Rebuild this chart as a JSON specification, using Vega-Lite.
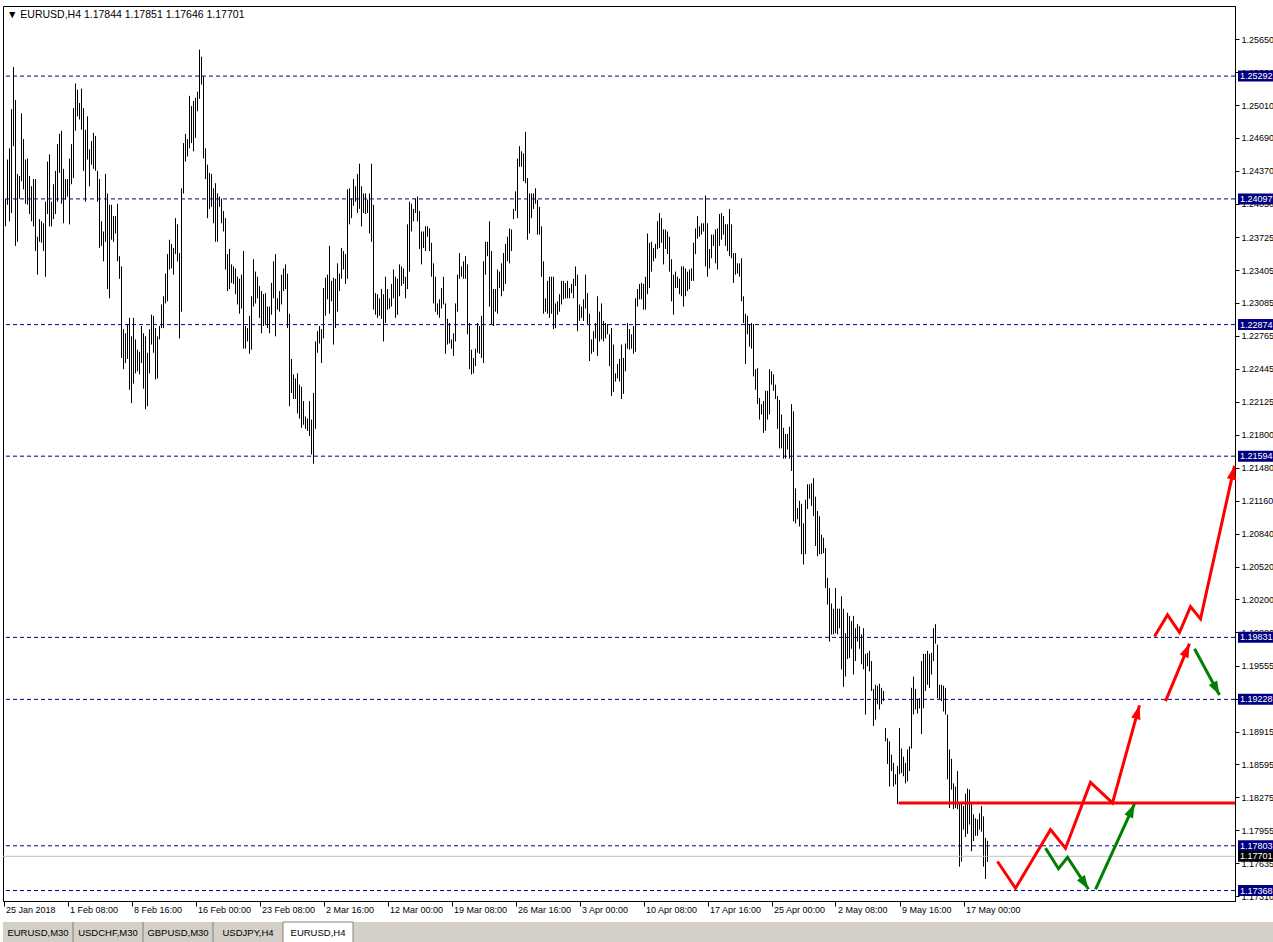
{
"$schema": "https://vega.github.io/schema/vega-lite/v6.json",
"background": "white",
"padding": {"left": 2, "top": 5, "right": 0, "bottom": 0},
"spacing": 6,
"config": {"font": "Liberation Sans", "axis": {"labelFont": "Liberation Sans", "labelFontSize": 9, "labelColor": "black", "domainColor": "black", "tickColor": "black", "grid": false, "labelOverlap": false, "labelFlush": false, "labelBound": false}, "axisY": {"labelOverlap": false}, "axisQuantitative": {"labelOverlap": false}},
"vconcat": [
{
"width": 1232, "height": 895,
"view": {"stroke": "black", "strokeWidth": 1},
"title": {"text": "▼ EURUSD,H4  1.17844 1.17851 1.17646 1.17701", "anchor": "start", "frame": "group", "offset": -14, "dx": 4, "fontSize": 10.5, "fontWeight": "normal", "font": "Liberation Sans", "color": "black"},
"resolve": {"axis": {"x": "independent", "y": "independent"}},
"layer": [
{
"data": {"values": [
{"t":0,"h":1.2422,"l":1.2380},{"t":1,"h":1.2410,"l":1.2383},{"t":2,"h":1.2448,"l":1.2404},{"t":3,"h":1.2459,"l":1.2388},{"t":4,"h":1.2497,"l":1.2396},{"t":5,"h":1.2538,"l":1.2461},{"t":6,"h":1.2506,"l":1.2364},{"t":7,"h":1.2434,"l":1.2368},{"t":8,"h":1.2432,"l":1.2410},{"t":9,"h":1.2493,"l":1.2427},
{"t":10,"h":1.2468,"l":1.2419},{"t":11,"h":1.2448,"l":1.2405},{"t":12,"h":1.2449,"l":1.2404},{"t":13,"h":1.2432,"l":1.2395},{"t":14,"h":1.2422,"l":1.2388},{"t":15,"h":1.2429,"l":1.2383},{"t":16,"h":1.2429,"l":1.2359},{"t":17,"h":1.2373,"l":1.2336},{"t":18,"h":1.2390,"l":1.2368},{"t":19,"h":1.2388,"l":1.2367},
{"t":20,"h":1.2386,"l":1.2359},{"t":21,"h":1.2407,"l":1.2334},{"t":22,"h":1.2446,"l":1.2395},{"t":23,"h":1.2453,"l":1.2383},{"t":24,"h":1.2407,"l":1.2383},{"t":25,"h":1.2424,"l":1.2390},{"t":26,"h":1.2437,"l":1.2395},{"t":27,"h":1.2463,"l":1.2407},{"t":28,"h":1.2473,"l":1.2435},{"t":29,"h":1.2476,"l":1.2405},
{"t":30,"h":1.2439,"l":1.2386},{"t":31,"h":1.2429,"l":1.2409},{"t":32,"h":1.2429,"l":1.2412},{"t":33,"h":1.2449,"l":1.2385},{"t":34,"h":1.2463,"l":1.2424},{"t":35,"h":1.2498,"l":1.2430},{"t":36,"h":1.2522,"l":1.2476},{"t":37,"h":1.2516,"l":1.2490},{"t":38,"h":1.2503,"l":1.2487},{"t":39,"h":1.2517,"l":1.2477},
{"t":40,"h":1.2498,"l":1.2437},{"t":41,"h":1.2477,"l":1.2407},{"t":42,"h":1.2490,"l":1.2448},{"t":43,"h":1.2458,"l":1.2422},{"t":44,"h":1.2466,"l":1.2443},{"t":45,"h":1.2474,"l":1.2439},{"t":46,"h":1.2471,"l":1.2437},{"t":47,"h":1.2437,"l":1.2407},{"t":48,"h":1.2429,"l":1.2362},{"t":49,"h":1.2388,"l":1.2364},
{"t":50,"h":1.2378,"l":1.2349},{"t":51,"h":1.2434,"l":1.2368},{"t":52,"h":1.2415,"l":1.2322},{"t":53,"h":1.2404,"l":1.2313},{"t":54,"h":1.2404,"l":1.2370},{"t":55,"h":1.2393,"l":1.2368},{"t":56,"h":1.2393,"l":1.2376},{"t":57,"h":1.2405,"l":1.2349},{"t":58,"h":1.2354,"l":1.2332},{"t":59,"h":1.2344,"l":1.2255},
{"t":60,"h":1.2283,"l":1.2244},{"t":61,"h":1.2279,"l":1.2250},{"t":62,"h":1.2288,"l":1.2254},{"t":63,"h":1.2294,"l":1.2224},{"t":64,"h":1.2276,"l":1.2211},{"t":65,"h":1.2294,"l":1.2230},{"t":66,"h":1.2273,"l":1.2240},{"t":67,"h":1.2263,"l":1.2242},{"t":68,"h":1.2261,"l":1.2239},{"t":69,"h":1.2286,"l":1.2250},
{"t":70,"h":1.2279,"l":1.2225},{"t":71,"h":1.2276,"l":1.2205},{"t":72,"h":1.2260,"l":1.2208},{"t":73,"h":1.2283,"l":1.2240},{"t":74,"h":1.2297,"l":1.2268},{"t":75,"h":1.2296,"l":1.2260},{"t":76,"h":1.2284,"l":1.2234},{"t":77,"h":1.2276,"l":1.2235},{"t":78,"h":1.2286,"l":1.2273},{"t":79,"h":1.2307,"l":1.2284},
{"t":80,"h":1.2315,"l":1.2284},{"t":81,"h":1.2337,"l":1.2308},{"t":82,"h":1.2356,"l":1.2310},{"t":83,"h":1.2370,"l":1.2341},{"t":84,"h":1.2366,"l":1.2342},{"t":85,"h":1.2362,"l":1.2336},{"t":86,"h":1.2391,"l":1.2356},{"t":87,"h":1.2385,"l":1.2349},{"t":88,"h":1.2357,"l":1.2274},{"t":89,"h":1.2420,"l":1.2300},
{"t":90,"h":1.2464,"l":1.2415},{"t":91,"h":1.2473,"l":1.2446},{"t":92,"h":1.2468,"l":1.2451},{"t":93,"h":1.2510,"l":1.2459},{"t":94,"h":1.2500,"l":1.2464},{"t":95,"h":1.2505,"l":1.2456},{"t":96,"h":1.2508,"l":1.2469},{"t":97,"h":1.2514,"l":1.2495},{"t":98,"h":1.2555,"l":1.2507},{"t":99,"h":1.2548,"l":1.2521},
{"t":100,"h":1.2529,"l":1.2449},{"t":101,"h":1.2459,"l":1.2429},{"t":102,"h":1.2443,"l":1.2391},{"t":103,"h":1.2435,"l":1.2400},{"t":104,"h":1.2434,"l":1.2402},{"t":105,"h":1.2420,"l":1.2386},{"t":106,"h":1.2425,"l":1.2368},{"t":107,"h":1.2415,"l":1.2368},{"t":108,"h":1.2412,"l":1.2402},{"t":109,"h":1.2410,"l":1.2386},
{"t":110,"h":1.2398,"l":1.2378},{"t":111,"h":1.2391,"l":1.2341},{"t":112,"h":1.2356,"l":1.2320},{"t":113,"h":1.2361,"l":1.2322},{"t":114,"h":1.2346,"l":1.2328},{"t":115,"h":1.2344,"l":1.2327},{"t":116,"h":1.2342,"l":1.2317},{"t":117,"h":1.2334,"l":1.2307},{"t":118,"h":1.2332,"l":1.2298},{"t":119,"h":1.2336,"l":1.2303},
{"t":120,"h":1.2359,"l":1.2264},{"t":121,"h":1.2286,"l":1.2264},{"t":122,"h":1.2284,"l":1.2271},{"t":123,"h":1.2296,"l":1.2259},{"t":124,"h":1.2315,"l":1.2263},{"t":125,"h":1.2351,"l":1.2305},{"t":126,"h":1.2339,"l":1.2308},{"t":127,"h":1.2334,"l":1.2313},{"t":128,"h":1.2325,"l":1.2294},{"t":129,"h":1.2320,"l":1.2279},
{"t":130,"h":1.2317,"l":1.2286},{"t":131,"h":1.2318,"l":1.2288},{"t":132,"h":1.2305,"l":1.2284},{"t":133,"h":1.2305,"l":1.2279},{"t":134,"h":1.2328,"l":1.2297},{"t":135,"h":1.2349,"l":1.2313},{"t":136,"h":1.2356,"l":1.2276},{"t":137,"h":1.2313,"l":1.2302},{"t":138,"h":1.2320,"l":1.2300},{"t":139,"h":1.2336,"l":1.2307},
{"t":140,"h":1.2342,"l":1.2320},{"t":141,"h":1.2346,"l":1.2322},{"t":142,"h":1.2337,"l":1.2284},{"t":143,"h":1.2298,"l":1.2208},{"t":144,"h":1.2254,"l":1.2221},{"t":145,"h":1.2239,"l":1.2215},{"t":146,"h":1.2235,"l":1.2215},{"t":147,"h":1.2240,"l":1.2201},{"t":148,"h":1.2229,"l":1.2196},{"t":149,"h":1.2227,"l":1.2187},
{"t":150,"h":1.2213,"l":1.2190},{"t":151,"h":1.2198,"l":1.2186},{"t":152,"h":1.2196,"l":1.2184},{"t":153,"h":1.2213,"l":1.2179},{"t":154,"h":1.2195,"l":1.2161},{"t":155,"h":1.2221,"l":1.2152},{"t":156,"h":1.2271,"l":1.2186},{"t":157,"h":1.2281,"l":1.2260},{"t":158,"h":1.2286,"l":1.2269},{"t":159,"h":1.2283,"l":1.2250},
{"t":160,"h":1.2323,"l":1.2274},{"t":161,"h":1.2333,"l":1.2296},{"t":162,"h":1.2336,"l":1.2312},{"t":163,"h":1.2364,"l":1.2298},{"t":164,"h":1.2330,"l":1.2310},{"t":165,"h":1.2333,"l":1.2268},{"t":166,"h":1.2332,"l":1.2284},{"t":167,"h":1.2347,"l":1.2300},{"t":168,"h":1.2337,"l":1.2320},{"t":169,"h":1.2362,"l":1.2332},
{"t":170,"h":1.2359,"l":1.2341},{"t":171,"h":1.2356,"l":1.2327},{"t":172,"h":1.2419,"l":1.2332},{"t":173,"h":1.2420,"l":1.2385},{"t":174,"h":1.2410,"l":1.2391},{"t":175,"h":1.2429,"l":1.2403},{"t":176,"h":1.2422,"l":1.2407},{"t":177,"h":1.2434,"l":1.2396},{"t":178,"h":1.2444,"l":1.2400},{"t":179,"h":1.2422,"l":1.2383},
{"t":180,"h":1.2415,"l":1.2396},{"t":181,"h":1.2415,"l":1.2395},{"t":182,"h":1.2409,"l":1.2396},{"t":183,"h":1.2415,"l":1.2376},{"t":184,"h":1.2444,"l":1.2368},{"t":185,"h":1.2404,"l":1.2302},{"t":186,"h":1.2318,"l":1.2297},{"t":187,"h":1.2317,"l":1.2294},{"t":188,"h":1.2313,"l":1.2296},{"t":189,"h":1.2322,"l":1.2293},
{"t":190,"h":1.2317,"l":1.2271},{"t":191,"h":1.2334,"l":1.2289},{"t":192,"h":1.2322,"l":1.2302},{"t":193,"h":1.2313,"l":1.2303},{"t":194,"h":1.2327,"l":1.2305},{"t":195,"h":1.2341,"l":1.2313},{"t":196,"h":1.2334,"l":1.2294},{"t":197,"h":1.2332,"l":1.2297},{"t":198,"h":1.2346,"l":1.2315},{"t":199,"h":1.2344,"l":1.2325},
{"t":200,"h":1.2342,"l":1.2327},{"t":201,"h":1.2334,"l":1.2313},{"t":202,"h":1.2385,"l":1.2322},{"t":203,"h":1.2407,"l":1.2339},{"t":204,"h":1.2405,"l":1.2378},{"t":205,"h":1.2400,"l":1.2388},{"t":206,"h":1.2410,"l":1.2396},{"t":207,"h":1.2412,"l":1.2388},{"t":208,"h":1.2398,"l":1.2361},{"t":209,"h":1.2378,"l":1.2346},
{"t":210,"h":1.2378,"l":1.2362},{"t":211,"h":1.2383,"l":1.2359},{"t":212,"h":1.2383,"l":1.2373},{"t":213,"h":1.2381,"l":1.2359},{"t":214,"h":1.2367,"l":1.2334},{"t":215,"h":1.2347,"l":1.2308},{"t":216,"h":1.2334,"l":1.2300},{"t":217,"h":1.2308,"l":1.2297},{"t":218,"h":1.2312,"l":1.2294},{"t":219,"h":1.2323,"l":1.2303},
{"t":220,"h":1.2334,"l":1.2307},{"t":221,"h":1.2308,"l":1.2259},{"t":222,"h":1.2293,"l":1.2268},{"t":223,"h":1.2289,"l":1.2269},{"t":224,"h":1.2273,"l":1.2264},{"t":225,"h":1.2279,"l":1.2257},{"t":226,"h":1.2308,"l":1.2271},{"t":227,"h":1.2336,"l":1.2300},{"t":228,"h":1.2357,"l":1.2332},{"t":229,"h":1.2344,"l":1.2334},
{"t":230,"h":1.2349,"l":1.2332},{"t":231,"h":1.2354,"l":1.2332},{"t":232,"h":1.2346,"l":1.2278},{"t":233,"h":1.2289,"l":1.2244},{"t":234,"h":1.2263,"l":1.2239},{"t":235,"h":1.2255,"l":1.2240},{"t":236,"h":1.2264,"l":1.2247},{"t":237,"h":1.2289,"l":1.2260},{"t":238,"h":1.2286,"l":1.2259},{"t":239,"h":1.2296,"l":1.2255},
{"t":240,"h":1.2349,"l":1.2250},{"t":241,"h":1.2368,"l":1.2336},{"t":242,"h":1.2368,"l":1.2354},{"t":243,"h":1.2388,"l":1.2305},{"t":244,"h":1.2359,"l":1.2288},{"t":245,"h":1.2322,"l":1.2286},{"t":246,"h":1.2322,"l":1.2300},{"t":247,"h":1.2341,"l":1.2298},{"t":248,"h":1.2339,"l":1.2323},{"t":249,"h":1.2347,"l":1.2315},
{"t":250,"h":1.2357,"l":1.2320},{"t":251,"h":1.2366,"l":1.2327},{"t":252,"h":1.2373,"l":1.2349},{"t":253,"h":1.2381,"l":1.2347},{"t":254,"h":1.2380,"l":1.2359},{"t":255,"h":1.2400,"l":1.2390},{"t":256,"h":1.2417,"l":1.2398},{"t":257,"h":1.2449,"l":1.2391},{"t":258,"h":1.2461,"l":1.2441},{"t":259,"h":1.2456,"l":1.2441},
{"t":260,"h":1.2454,"l":1.2427},{"t":261,"h":1.2475,"l":1.2425},{"t":262,"h":1.2430,"l":1.2370},{"t":263,"h":1.2415,"l":1.2376},{"t":264,"h":1.2415,"l":1.2391},{"t":265,"h":1.2415,"l":1.2400},{"t":266,"h":1.2420,"l":1.2405},{"t":267,"h":1.2409,"l":1.2375},{"t":268,"h":1.2402,"l":1.2375},{"t":269,"h":1.2383,"l":1.2334},
{"t":270,"h":1.2349,"l":1.2298},{"t":271,"h":1.2313,"l":1.2300},{"t":272,"h":1.2330,"l":1.2298},{"t":273,"h":1.2334,"l":1.2294},{"t":274,"h":1.2334,"l":1.2298},{"t":275,"h":1.2334,"l":1.2283},{"t":276,"h":1.2308,"l":1.2284},{"t":277,"h":1.2310,"l":1.2297},{"t":278,"h":1.2317,"l":1.2300},{"t":279,"h":1.2330,"l":1.2307},
{"t":280,"h":1.2330,"l":1.2312},{"t":281,"h":1.2328,"l":1.2313},{"t":282,"h":1.2330,"l":1.2313},{"t":283,"h":1.2323,"l":1.2313},{"t":284,"h":1.2327,"l":1.2318},{"t":285,"h":1.2332,"l":1.2313},{"t":286,"h":1.2344,"l":1.2325},{"t":287,"h":1.2336,"l":1.2281},{"t":288,"h":1.2307,"l":1.2291},{"t":289,"h":1.2305,"l":1.2294},
{"t":290,"h":1.2312,"l":1.2291},{"t":291,"h":1.2336,"l":1.2303},{"t":292,"h":1.2318,"l":1.2288},{"t":293,"h":1.2298,"l":1.2252},{"t":294,"h":1.2273,"l":1.2259},{"t":295,"h":1.2281,"l":1.2261},{"t":296,"h":1.2289,"l":1.2274},{"t":297,"h":1.2315,"l":1.2257},{"t":298,"h":1.2300,"l":1.2271},{"t":299,"h":1.2308,"l":1.2273},
{"t":300,"h":1.2291,"l":1.2271},{"t":301,"h":1.2289,"l":1.2274},{"t":302,"h":1.2288,"l":1.2278},{"t":303,"h":1.2278,"l":1.2247},{"t":304,"h":1.2284,"l":1.2218},{"t":305,"h":1.2268,"l":1.2222},{"t":306,"h":1.2240,"l":1.2232},{"t":307,"h":1.2249,"l":1.2235},{"t":308,"h":1.2254,"l":1.2232},{"t":309,"h":1.2268,"l":1.2215},
{"t":310,"h":1.2255,"l":1.2220},{"t":311,"h":1.2269,"l":1.2242},{"t":312,"h":1.2289,"l":1.2264},{"t":313,"h":1.2283,"l":1.2263},{"t":314,"h":1.2278,"l":1.2264},{"t":315,"h":1.2286,"l":1.2259},{"t":316,"h":1.2313,"l":1.2261},{"t":317,"h":1.2322,"l":1.2305},{"t":318,"h":1.2327,"l":1.2312},{"t":319,"h":1.2328,"l":1.2312},
{"t":320,"h":1.2327,"l":1.2302},{"t":321,"h":1.2334,"l":1.2302},{"t":322,"h":1.2376,"l":1.2317},{"t":323,"h":1.2367,"l":1.2323},{"t":324,"h":1.2368,"l":1.2339},{"t":325,"h":1.2362,"l":1.2349},{"t":326,"h":1.2366,"l":1.2352},{"t":327,"h":1.2388,"l":1.2361},{"t":328,"h":1.2396,"l":1.2362},{"t":329,"h":1.2391,"l":1.2367},
{"t":330,"h":1.2380,"l":1.2346},{"t":331,"h":1.2380,"l":1.2361},{"t":332,"h":1.2378,"l":1.2356},{"t":333,"h":1.2373,"l":1.2339},{"t":334,"h":1.2351,"l":1.2310},{"t":335,"h":1.2336,"l":1.2297},{"t":336,"h":1.2339,"l":1.2323},{"t":337,"h":1.2334,"l":1.2323},{"t":338,"h":1.2332,"l":1.2317},{"t":339,"h":1.2344,"l":1.2315},
{"t":340,"h":1.2344,"l":1.2305},{"t":341,"h":1.2342,"l":1.2315},{"t":342,"h":1.2339,"l":1.2320},{"t":343,"h":1.2341,"l":1.2322},{"t":344,"h":1.2342,"l":1.2330},{"t":345,"h":1.2367,"l":1.2330},{"t":346,"h":1.2381,"l":1.2356},{"t":347,"h":1.2393,"l":1.2371},{"t":348,"h":1.2383,"l":1.2373},{"t":349,"h":1.2386,"l":1.2375},
{"t":350,"h":1.2386,"l":1.2378},{"t":351,"h":1.2413,"l":1.2344},{"t":352,"h":1.2386,"l":1.2334},{"t":353,"h":1.2361,"l":1.2342},{"t":354,"h":1.2375,"l":1.2352},{"t":355,"h":1.2375,"l":1.2364},{"t":356,"h":1.2380,"l":1.2347},{"t":357,"h":1.2381,"l":1.2341},{"t":358,"h":1.2395,"l":1.2364},{"t":359,"h":1.2396,"l":1.2370},
{"t":360,"h":1.2393,"l":1.2375},{"t":361,"h":1.2385,"l":1.2364},{"t":362,"h":1.2385,"l":1.2359},{"t":363,"h":1.2400,"l":1.2354},{"t":364,"h":1.2385,"l":1.2352},{"t":365,"h":1.2357,"l":1.2328},{"t":366,"h":1.2357,"l":1.2336},{"t":367,"h":1.2347,"l":1.2337},{"t":368,"h":1.2347,"l":1.2334},{"t":369,"h":1.2352,"l":1.2310},
{"t":370,"h":1.2315,"l":1.2289},{"t":371,"h":1.2298,"l":1.2249},{"t":372,"h":1.2296,"l":1.2278},{"t":373,"h":1.2288,"l":1.2266},{"t":374,"h":1.2289,"l":1.2264},{"t":375,"h":1.2288,"l":1.2237},{"t":376,"h":1.2244,"l":1.2224},{"t":377,"h":1.2245,"l":1.2210},{"t":378,"h":1.2216,"l":1.2195},{"t":379,"h":1.2210,"l":1.2200},
{"t":380,"h":1.2213,"l":1.2182},{"t":381,"h":1.2223,"l":1.2184},{"t":382,"h":1.2223,"l":1.2195},{"t":383,"h":1.2244,"l":1.2200},{"t":384,"h":1.2242,"l":1.2229},{"t":385,"h":1.2239,"l":1.2223},{"t":386,"h":1.2229,"l":1.2215},{"t":387,"h":1.2218,"l":1.2186},{"t":388,"h":1.2214,"l":1.2167},{"t":389,"h":1.2200,"l":1.2167},
{"t":390,"h":1.2187,"l":1.2157},{"t":391,"h":1.2181,"l":1.2157},{"t":392,"h":1.2181,"l":1.2166},{"t":393,"h":1.2188,"l":1.2157},{"t":394,"h":1.2210,"l":1.2145},{"t":395,"h":1.2203,"l":1.2096},{"t":396,"h":1.2128,"l":1.2094},{"t":397,"h":1.2109,"l":1.2098},{"t":398,"h":1.2116,"l":1.2091},{"t":399,"h":1.2113,"l":1.2064},
{"t":400,"h":1.2094,"l":1.2054},{"t":401,"h":1.2117,"l":1.2064},{"t":402,"h":1.2132,"l":1.2108},{"t":403,"h":1.2132,"l":1.2118},{"t":404,"h":1.2133,"l":1.2111},{"t":405,"h":1.2138,"l":1.2101},{"t":406,"h":1.2120,"l":1.2072},{"t":407,"h":1.2106,"l":1.2062},{"t":408,"h":1.2101,"l":1.2064},{"t":409,"h":1.2083,"l":1.2064},
{"t":410,"h":1.2080,"l":1.2065},{"t":411,"h":1.2070,"l":1.2031},{"t":412,"h":1.2041,"l":1.2015},{"t":413,"h":1.2031,"l":1.1979},{"t":414,"h":1.2016,"l":1.1986},{"t":415,"h":1.2011,"l":1.1986},{"t":416,"h":1.2031,"l":1.1987},{"t":417,"h":1.2011,"l":1.1986},{"t":418,"h":1.2011,"l":1.1992},{"t":419,"h":1.2023,"l":1.1952},
{"t":420,"h":1.2011,"l":1.1935},{"t":421,"h":1.1987,"l":1.1945},{"t":422,"h":1.2007,"l":1.1962},{"t":423,"h":1.2004,"l":1.1963},{"t":424,"h":1.1999,"l":1.1972},{"t":425,"h":1.2004,"l":1.1947},{"t":426,"h":1.1992,"l":1.1960},{"t":427,"h":1.1996,"l":1.1979},{"t":428,"h":1.1994,"l":1.1972},{"t":429,"h":1.1986,"l":1.1957},
{"t":430,"h":1.1992,"l":1.1952},{"t":431,"h":1.1967,"l":1.1908},{"t":432,"h":1.1968,"l":1.1955},{"t":433,"h":1.1970,"l":1.1950},{"t":434,"h":1.1960,"l":1.1931},{"t":435,"h":1.1933,"l":1.1897},{"t":436,"h":1.1937,"l":1.1903},{"t":437,"h":1.1936,"l":1.1918},{"t":438,"h":1.1938,"l":1.1913},{"t":439,"h":1.1934,"l":1.1918},
{"t":440,"h":1.1931,"l":1.1921},{"t":441,"h":1.1895,"l":1.1882},{"t":442,"h":1.1885,"l":1.1860},{"t":443,"h":1.1882,"l":1.1838},{"t":444,"h":1.1869,"l":1.1853},{"t":445,"h":1.1861,"l":1.1838},{"t":446,"h":1.1850,"l":1.1840},{"t":447,"h":1.1858,"l":1.1821},{"t":448,"h":1.1895,"l":1.1850},{"t":449,"h":1.1875,"l":1.1851},
{"t":450,"h":1.1867,"l":1.1848},{"t":451,"h":1.1861,"l":1.1841},{"t":452,"h":1.1874,"l":1.1843},{"t":453,"h":1.1877,"l":1.1853},{"t":454,"h":1.1934,"l":1.1875},{"t":455,"h":1.1945,"l":1.1908},{"t":456,"h":1.1933,"l":1.1913},{"t":457,"h":1.1923,"l":1.1909},{"t":458,"h":1.1924,"l":1.1914},{"t":459,"h":1.1960,"l":1.1889},
{"t":460,"h":1.1967,"l":1.1914},{"t":461,"h":1.1967,"l":1.1931},{"t":462,"h":1.1970,"l":1.1937},{"t":463,"h":1.1967,"l":1.1934},{"t":464,"h":1.1968,"l":1.1947},{"t":465,"h":1.1992,"l":1.1960},{"t":466,"h":1.1996,"l":1.1977},{"t":467,"h":1.1976,"l":1.1924},{"t":468,"h":1.1937,"l":1.1923},{"t":469,"h":1.1937,"l":1.1921},
{"t":470,"h":1.1936,"l":1.1911},{"t":471,"h":1.1934,"l":1.1908},{"t":472,"h":1.1908,"l":1.1845},{"t":473,"h":1.1874,"l":1.1817},{"t":474,"h":1.1865,"l":1.1835},{"t":475,"h":1.1841,"l":1.1816},{"t":476,"h":1.1838,"l":1.1817},{"t":477,"h":1.1853,"l":1.1816},{"t":478,"h":1.1822,"l":1.1760},{"t":479,"h":1.1821,"l":1.1765},
{"t":480,"h":1.1819,"l":1.1796},{"t":481,"h":1.1831,"l":1.1789},{"t":482,"h":1.1836,"l":1.1792},{"t":483,"h":1.1835,"l":1.1801},{"t":484,"h":1.1821,"l":1.1775},{"t":485,"h":1.1811,"l":1.1785},{"t":486,"h":1.1807,"l":1.1790},{"t":487,"h":1.1806,"l":1.1790},{"t":488,"h":1.1812,"l":1.1796},{"t":489,"h":1.1819,"l":1.1794},
{"t":490,"h":1.1809,"l":1.1760},{"t":491,"h":1.1788,"l":1.1748},{"t":492,"h":1.17851,"l":1.17646}
]},
"mark": {"type": "rule", "color": "black", "strokeWidth": 1, "clip": true},
"encoding": {
"x": {"field": "t", "type": "quantitative", "title": null, "scale": {"domain": [-0.25, 615.75], "nice": false, "zero": false},
"axis": {"orient": "bottom", "values": [0,32,64,96,128,160,192,224,256,288,320,352,384,416,448,480], "labelExpr": "['25 Jan 2018','1 Feb 08:00','8 Feb 16:00','16 Feb 00:00','23 Feb 08:00','2 Mar 16:00','12 Mar 00:00','19 Mar 08:00','26 Mar 16:00','3 Apr 00:00','10 Apr 08:00','17 Apr 16:00','25 Apr 00:00','2 May 08:00','9 May 16:00','17 May 00:00'][round(datum.value/32)]", "tickSize": 5, "labelAlign": "left", "labelBaseline": "top", "labelPadding": -1, "labelOffset": 2, "labelFlush": false, "labelOverlap": false, "labelBound": false, "grid": false}},
"y": {"field": "h", "type": "quantitative", "title": null, "scale": {"domain": [1.17266, 1.25974], "nice": false, "zero": false},
"axis": {"orient": "right", "values": [1.2565,1.2533,1.2501,1.2469,1.2437,1.2405,1.23725,1.23405,1.23085,1.22765,1.22445,1.22125,1.218,1.2148,1.2116,1.2084,1.2052,1.202,1.1988,1.19555,1.19235,1.18915,1.18595,1.18275,1.17955,1.17635,1.1731], "format": ".5f", "tickSize": 4, "labelPadding": 2, "labelAlign": "left", "labelBaseline": "middle", "labelOverlap": false, "labelFlush": false, "labelBound": false, "labelSeparation": 0, "grid": false}},
"y2": {"field": "l"}
}
},
{
"data": {"values": [{"p":1.25292},{"p":1.24097},{"p":1.22874},{"p":1.21594},{"p":1.19831},{"p":1.19228},{"p":1.17803},{"p":1.17368}]},
"mark": {"type": "rule", "color": "#000080", "strokeWidth": 1, "strokeDash": [4, 3]},
"encoding": {"y": {"field": "p", "type": "quantitative", "axis": null, "scale": {"domain": [1.17266, 1.25974], "nice": false, "zero": false}}}
},
{
"data": {"values": [{"p":1.17701}]},
"mark": {"type": "rule", "color": "#C0C0C0", "strokeWidth": 1},
"encoding": {"y": {"field": "p", "type": "quantitative", "axis": null, "scale": {"domain": [1.17266, 1.25974], "nice": false, "zero": false}}}
},
{
"data": {"values": [{"t":447.5,"t2":615.75,"p":1.1822}]},
"mark": {"type": "rule", "color": "#FF0000", "strokeWidth": 3},
"encoding": {
"x": {"field": "t", "type": "quantitative", "axis": null, "scale": {"domain": [-0.25, 615.75], "nice": false, "zero": false}},
"x2": {"field": "t2"},
"y": {"field": "p", "type": "quantitative", "axis": null, "scale": {"domain": [1.17266, 1.25974], "nice": false, "zero": false}}
}
},
{
"data": {"values": [
{"path":"a1","scenario":"main","k":0,"t":497,"p":1.1765},{"path":"a1","scenario":"main","k":1,"t":506,"p":1.1739},{"path":"a1","scenario":"main","k":2,"t":523.5,"p":1.1796},{"path":"a1","scenario":"main","k":3,"t":531,"p":1.1778},{"path":"a1","scenario":"main","k":4,"t":543.5,"p":1.1842},{"path":"a1","scenario":"main","k":5,"t":554.5,"p":1.1822},{"path":"a1","scenario":"main","k":6,"t":568,"p":1.1917},
{"path":"a2","scenario":"main","k":0,"t":581,"p":1.1921},{"path":"a2","scenario":"main","k":1,"t":593,"p":1.1977},
{"path":"a3","scenario":"main","k":0,"t":575.5,"p":1.1984},{"path":"a3","scenario":"main","k":1,"t":582,"p":1.2005},{"path":"a3","scenario":"main","k":2,"t":588,"p":1.1988},{"path":"a3","scenario":"main","k":3,"t":593.5,"p":1.2013},{"path":"a3","scenario":"main","k":4,"t":598.5,"p":1.2001},{"path":"a3","scenario":"main","k":5,"t":615.5,"p":1.2150},
{"path":"g1","scenario":"alt","k":0,"t":521,"p":1.1778},{"path":"g1","scenario":"alt","k":1,"t":527.5,"p":1.1758},{"path":"g1","scenario":"alt","k":2,"t":532,"p":1.1769},{"path":"g1","scenario":"alt","k":3,"t":542.5,"p":1.1738},
{"path":"g2","scenario":"alt","k":0,"t":546,"p":1.1738},{"path":"g2","scenario":"alt","k":1,"t":565.5,"p":1.1821},
{"path":"g3","scenario":"alt","k":0,"t":595.5,"p":1.1972},{"path":"g3","scenario":"alt","k":1,"t":608,"p":1.1927}
]},
"mark": {"type": "line", "strokeWidth": 3, "clip": false, "strokeJoin": "miter"},
"encoding": {
"x": {"field": "t", "type": "quantitative", "axis": null, "scale": {"domain": [-0.25, 615.75], "nice": false, "zero": false}},
"y": {"field": "p", "type": "quantitative", "axis": null, "scale": {"domain": [1.17266, 1.25974], "nice": false, "zero": false}},
"detail": {"field": "path", "type": "nominal"},
"order": {"field": "k", "type": "quantitative"},
"color": {"field": "scenario", "type": "nominal", "scale": {"domain": ["main", "alt"], "range": ["#FF0000", "#008000"]}, "legend": null}
}
},
{
"data": {"values": [
{"scenario":"main","t":568,"p":1.1917,"t0":554.5,"p0":1.1822},
{"scenario":"main","t":593,"p":1.1977,"t0":581,"p0":1.1921},
{"scenario":"main","t":615.5,"p":1.2150,"t0":598.5,"p0":1.2001},
{"scenario":"alt","t":542.5,"p":1.1738,"t0":532,"p0":1.1769},
{"scenario":"alt","t":565.5,"p":1.1821,"t0":546,"p0":1.1738},
{"scenario":"alt","t":608,"p":1.1927,"t0":595.5,"p0":1.1972}
]},
"transform": [{"calculate": "atan2(2*(datum.t-datum.t0), 10278*(datum.p-datum.p0))*180/PI", "as": "ang"}],
"mark": {"type": "point", "filled": true, "opacity": 1, "shape": "M0,0L-0.55,1.6L0.55,1.6Z", "size": 300, "clip": false, "strokeWidth": 0},
"encoding": {
"x": {"field": "t", "type": "quantitative", "axis": null, "scale": {"domain": [-0.25, 615.75], "nice": false, "zero": false}},
"y": {"field": "p", "type": "quantitative", "axis": null, "scale": {"domain": [1.17266, 1.25974], "nice": false, "zero": false}},
"angle": {"field": "ang", "type": "quantitative", "scale": null},
"color": {"field": "scenario", "type": "nominal", "scale": {"domain": ["main", "alt"], "range": ["#FF0000", "#008000"]}, "legend": null}
}
},
{
"data": {"values": [{"p":1.25292,"kind":"level"},{"p":1.24097,"kind":"level"},{"p":1.22874,"kind":"level"},{"p":1.21594,"kind":"level"},{"p":1.19831,"kind":"level"},{"p":1.19228,"kind":"level"},{"p":1.17803,"kind":"level"},{"p":1.17368,"kind":"level"},{"p":1.17701,"kind":"bid"}]},
"transform": [{"filter": "datum.kind === 'level'"}],
"mark": {"type": "tick", "orient": "horizontal", "size": 36, "thickness": 11, "xOffset": 21, "clip": false, "opacity": 1, "color": "#000080"},
"encoding": {
"x": {"datum": 615.75, "type": "quantitative", "axis": null, "scale": {"domain": [-0.25, 615.75], "nice": false, "zero": false}},
"y": {"field": "p", "type": "quantitative", "axis": null, "scale": {"domain": [1.17266, 1.25974], "nice": false, "zero": false}}
}
},
{
"data": {"values": [{"p":1.17701,"kind":"bid"}]},
"mark": {"type": "tick", "orient": "horizontal", "size": 36, "thickness": 11, "xOffset": 21, "clip": false, "opacity": 1, "color": "#000000"},
"encoding": {
"x": {"datum": 615.75, "type": "quantitative", "axis": null, "scale": {"domain": [-0.25, 615.75], "nice": false, "zero": false}},
"y": {"field": "p", "type": "quantitative", "axis": null, "scale": {"domain": [1.17266, 1.25974], "nice": false, "zero": false}}
}
},
{
"data": {"values": [{"p":1.25292},{"p":1.24097},{"p":1.22874},{"p":1.21594},{"p":1.19831},{"p":1.19228},{"p":1.17803},{"p":1.17368},{"p":1.17701}]},
"mark": {"type": "text", "align": "left", "baseline": "middle", "dx": 5, "fontSize": 9, "color": "white", "clip": false, "font": "Liberation Sans"},
"encoding": {
"x": {"datum": 615.75, "type": "quantitative", "axis": null, "scale": {"domain": [-0.25, 615.75], "nice": false, "zero": false}},
"y": {"field": "p", "type": "quantitative", "axis": null, "scale": {"domain": [1.17266, 1.25974], "nice": false, "zero": false}},
"text": {"field": "p", "type": "quantitative", "format": ".5f"}
}
}
]
},
{
"width": 1271, "height": 22,
"view": {"fill": "#D4D0C8", "stroke": null},
"data": {"values": [{"tab":"EURUSD,M30"},{"tab":"USDCHF,M30"},{"tab":"GBPUSD,M30"},{"tab":"USDJPY,H4"},{"tab":"EURUSD,H4"}]},
"layer": [
{
"transform": [{"filter": "datum.tab === 'EURUSD,H4'"}],
"mark": {"type": "bar", "color": "white", "stroke": "#808080", "strokeWidth": 1},
"encoding": {"x": {"field": "tab", "type": "nominal", "sort": null, "axis": null, "scale": {"type": "band", "domain": ["EURUSD,M30","USDCHF,M30","GBPUSD,M30","USDJPY,H4","EURUSD,H4"], "range": [0, 350], "paddingInner": 0, "paddingOuter": 0}}}
},
{
"transform": [{"filter": "datum.tab !== 'EURUSD,M30' && datum.tab !== 'EURUSD,H4'"}],
"mark": {"type": "rule", "color": "#808080", "strokeWidth": 1},
"encoding": {"x": {"field": "tab", "type": "nominal", "sort": null, "axis": null, "bandPosition": 0, "scale": {"type": "band", "domain": ["EURUSD,M30","USDCHF,M30","GBPUSD,M30","USDJPY,H4","EURUSD,H4"], "range": [0, 350], "paddingInner": 0, "paddingOuter": 0}}}
},
{
"mark": {"type": "text", "fontSize": 9.5, "color": "black", "font": "Liberation Sans"},
"encoding": {
"x": {"field": "tab", "type": "nominal", "sort": null, "axis": null, "scale": {"type": "band", "domain": ["EURUSD,M30","USDCHF,M30","GBPUSD,M30","USDJPY,H4","EURUSD,H4"], "range": [0, 350], "paddingInner": 0, "paddingOuter": 0}},
"text": {"field": "tab"}
}
}
]
}
]
}
